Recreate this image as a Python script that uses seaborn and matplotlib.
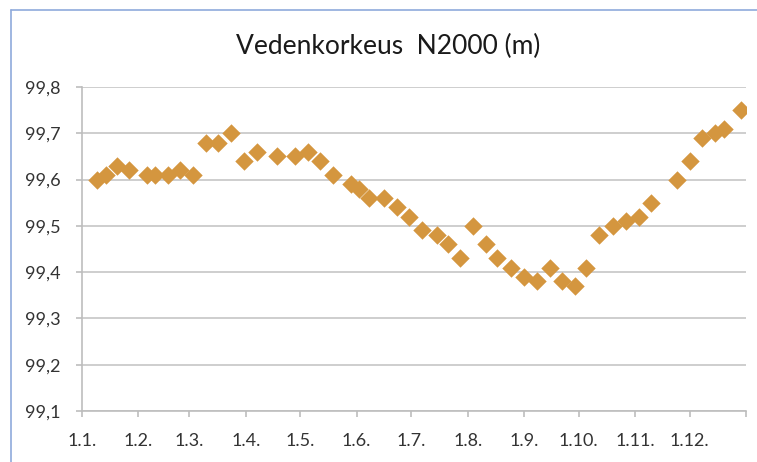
import pandas as pd
import numpy as np
import seaborn as sns
import matplotlib.pyplot as plt
import matplotlib.dates as mdates
from matplotlib.lines import Line2D

dates = ['2019-01-09', '2019-01-14', '2019-01-20', '2019-01-27', '2019-02-06',
         '2019-02-10', '2019-02-17', '2019-02-24', '2019-03-03', '2019-03-10',
         '2019-03-17', '2019-03-24', '2019-03-31', '2019-04-07', '2019-04-18',
         '2019-04-28', '2019-05-05', '2019-05-12', '2019-05-19', '2019-05-29',
         '2019-06-02', '2019-06-08', '2019-06-16', '2019-06-23', '2019-06-30',
         '2019-07-07', '2019-07-15', '2019-07-21', '2019-07-28', '2019-08-04',
         '2019-08-11', '2019-08-17', '2019-08-25', '2019-09-01', '2019-09-08',
         '2019-09-15', '2019-09-22', '2019-09-29', '2019-10-05', '2019-10-12',
         '2019-10-20', '2019-10-27', '2019-11-03', '2019-11-10', '2019-11-24',
         '2019-12-01', '2019-12-08', '2019-12-15', '2019-12-20', '2019-12-29']
levels = [99.60, 99.61, 99.63, 99.62, 99.61, 99.61, 99.61, 99.62, 99.61, 99.68,
          99.68, 99.70, 99.64, 99.66, 99.65, 99.65, 99.66, 99.64, 99.61, 99.59,
          99.58, 99.56, 99.56, 99.54, 99.52, 99.49, 99.48, 99.46, 99.43, 99.50,
          99.46, 99.43, 99.41, 99.39, 99.38, 99.41, 99.38, 99.37, 99.41, 99.48,
          99.50, 99.51, 99.52, 99.55, 99.60, 99.64, 99.69, 99.70, 99.71, 99.75]

month_starts = pd.date_range('2019-01-01', '2020-01-01', freq='MS')
month_labels = ['1.1.', '1.2.', '1.3.', '1.4.', '1.5.', '1.6.', '1.7.',
                '1.8.', '1.9.', '1.10.', '1.11.', '1.12.', '']
y_ticks = [99.1, 99.2, 99.3, 99.4, 99.5, 99.6, 99.7, 99.8]
y_labels = ['99,1', '99,2', '99,3', '99,4', '99,5', '99,6', '99,7', '99,8']

df = pd.DataFrame({'pvm': pd.to_datetime(dates), 'korkeus': levels})

sns.set_style('white')
plt.rcParams['font.family'] = ['Lato', 'DejaVu Sans']

fig = plt.figure(figsize=(7.57, 4.62), dpi=100)
ax = fig.add_axes([82 / 757, 1 - 411 / 462, 664 / 757, 324 / 462])

sns.scatterplot(data=df, x='pvm', y='korkeus', marker='D', s=88,
                color='#D4963F', linewidth=0, ax=ax, zorder=3)

ax.set_xlim(month_starts[0], month_starts[-1])
ax.set_ylim(99.1, 99.8)
ax.set_xticks(month_starts)
ax.set_xticklabels(month_labels)
ax.set_yticks(y_ticks)
ax.set_yticklabels(y_labels)
ax.set_xlabel('')
ax.set_ylabel('')

ax.grid(axis='y', color='#c6c6c6', linewidth=1.2)
ax.grid(axis='x', visible=False)
for side in ['top', 'right']:
    ax.spines[side].set_visible(False)
for side in ['left', 'bottom']:
    ax.spines[side].set_color('#bdbdbd')
    ax.spines[side].set_linewidth(1.2)
ax.tick_params(axis='both', direction='out', length=4.5, width=1.2,
               color='#bdbdbd', labelsize=13, labelcolor='#333333')
ax.tick_params(axis='y', pad=11)
ax.tick_params(axis='x', pad=11)
ax.tick_params(bottom=True, left=True)

fig.text(388 / 757, 1 - 46 / 462, 'Vedenkorkeus  N2000 (m)', ha='center',
         va='center', fontsize=19, color='#1a1a1a')

fig.add_artist(Line2D([10.5 / 757, 10.5 / 757], [0, 1 - 10 / 462],
                      color='#8FAADC', linewidth=1.2))
fig.add_artist(Line2D([10.5 / 757, 1], [1 - 10 / 462, 1 - 10 / 462],
                      color='#8FAADC', linewidth=1.2))

plt.savefig('out.png', dpi=100)
